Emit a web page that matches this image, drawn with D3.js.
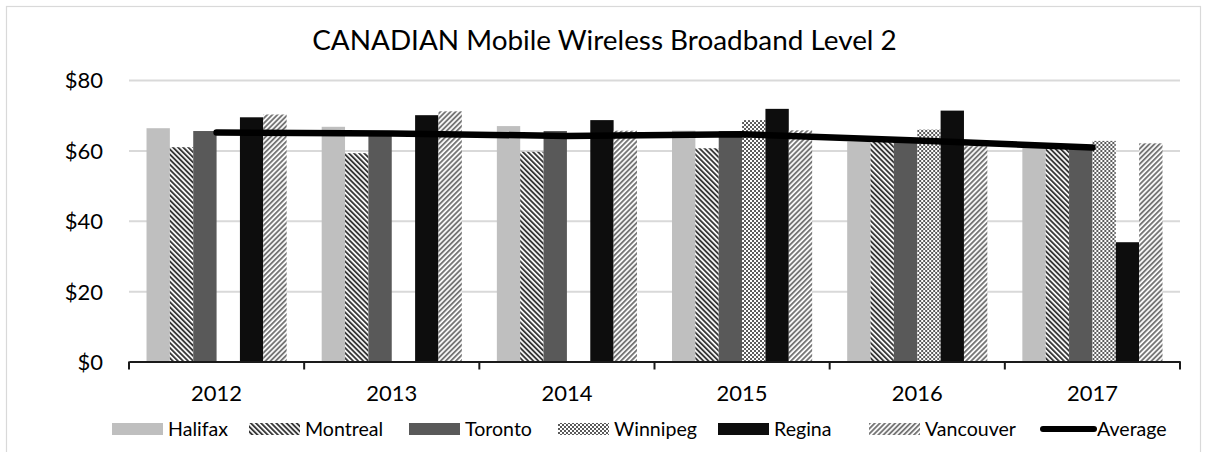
<!DOCTYPE html>
<html>
<head>
<meta charset="utf-8">
<script src="https://cdn.jsdelivr.net/npm/d3@7/dist/d3.min.js"></script>
<style>
  html, body { margin: 0; padding: 0; background: #fff; }
  svg { display: block; }
  text { font-family: Lato, "Liberation Sans", sans-serif; fill: #000; }
</style>
</head>
<body>
<svg id="chart" width="1207" height="452"></svg>
<script>
// ---- data ----
const title = "CANADIAN Mobile Wireless Broadband Level 2";
const years = ["2012", "2013", "2014", "2015", "2016", "2017"];
const cities = ["Halifax", "Montreal", "Toronto", "Winnipeg", "Regina", "Vancouver"];
const halifax   = [66.3, 66.7, 66.9, 65.6, 62.5, 61.0];
const montreal  = [60.9, 59.2, 59.6, 60.6, 62.5, 60.8];
const toronto   = [65.5, 64.6, 65.5, 65.5, 63.0, 60.5];
const winnipeg  = [null, null, null, 68.6, 65.9, 62.7];
const regina    = [69.4, 70.0, 68.6, 71.8, 71.3, 33.9];
const vancouver = [70.2, 71.1, 65.6, 65.7, 61.2, 62.0];
const average   = [65.1, 64.8, 64.1, 64.6, 62.8, 60.8];
const yTicks = [0, 20, 40, 60, 80];
const averageLabel = "Average";

const seriesValues = [halifax, montreal, toronto, winnipeg, regina, vancouver];

// ---- layout ----
const W = 1207, H = 452;
const plot = { left: 129, right: 1180, top: 80, bottom: 361.5 };
const svg = d3.select("#chart");

function fitSize(str, targetW, weight) {
  const t = svg.append("text").attr("font-size", 100).attr("font-weight", weight || 400).text(str);
  const w = t.node().getComputedTextLength();
  t.remove();
  return 100 * targetW / w;
}
const titleSize = fitSize(title, 585);
const axisSize = fitSize("2012", 51);
const legendSize = fitSize("Vancouver", 91);

// patterns
const defs = svg.append("defs");
function stripePattern(id, angle, color) {
  const p = defs.append("pattern").attr("id", id)
    .attr("patternUnits", "userSpaceOnUse")
    .attr("width", 3.6).attr("height", 10)
    .attr("patternTransform", `rotate(${angle})`);
  p.append("rect").attr("width", 3.6).attr("height", 10).attr("fill", "#fff");
  p.append("rect").attr("width", 1.9).attr("height", 10).attr("fill", color);
}
stripePattern("pMontreal", -45, "#383838");
stripePattern("pVancouver", 45, "#767676");
const chk = defs.append("pattern").attr("id", "pWinnipeg")
  .attr("patternUnits", "userSpaceOnUse").attr("width", 4).attr("height", 4);
chk.append("rect").attr("width", 4).attr("height", 4).attr("fill", "#fff");
chk.append("rect").attr("width", 2).attr("height", 2).attr("fill", "#5a5a5a");
chk.append("rect").attr("x", 2).attr("y", 2).attr("width", 2).attr("height", 2).attr("fill", "#5a5a5a");

const fills = {
  Halifax: "#bfbfbf",
  Montreal: "url(#pMontreal)",
  Toronto: "#595959",
  Winnipeg: "url(#pWinnipeg)",
  Regina: "#0d0d0d",
  Vancouver: "url(#pVancouver)"
};

// background + border
svg.append("rect").attr("width", W).attr("height", H).attr("fill", "#fff");
svg.append("rect").attr("x", 6.5).attr("y", 6.5).attr("width", 1194).attr("height", 460)
  .attr("fill", "none").attr("stroke", "#d9d9d9").attr("stroke-width", 1.2);

// scales
const x0 = d3.scaleBand().domain(years).range([plot.left, plot.right])
  .paddingInner(0.2).paddingOuter(0.1);
const x1 = d3.scaleBand().domain(cities).range([0, x0.bandwidth()]).padding(0);
const xCat = d3.scaleBand().domain(years).range([plot.left, plot.right]).padding(0);
const y = d3.scaleLinear().domain([0, 80]).range([plot.bottom, plot.top]);

// gridlines
const grid = svg.append("g").attr("transform", `translate(${plot.left},0)`)
  .call(d3.axisLeft(y).tickValues(yTicks).tickSize(-(plot.right - plot.left)).tickFormat(""));
grid.select(".domain").remove();
grid.selectAll("line").attr("stroke", "#d9d9d9").attr("stroke-width", 2);

// y labels
const yAxis = svg.append("g").attr("transform", `translate(${plot.left},0)`)
  .call(d3.axisLeft(y).tickValues(yTicks).tickSize(0).tickPadding(26).tickFormat(d => "$" + d));
yAxis.select(".domain").remove();
yAxis.selectAll("text").attr("font-size", axisSize).attr("font-family", "Lato").attr("fill", "#000")
  .attr("dy", "0.36em");

// bars
const groups = svg.append("g").selectAll("g").data(years).join("g")
  .attr("transform", d => `translate(${x0(d)},0)`);
groups.selectAll("rect")
  .data((yr, i) => cities.map((c, j) => ({ city: c, v: seriesValues[j][i] })).filter(d => d.v != null))
  .join("rect")
  .attr("x", d => x1(d.city))
  .attr("width", x1.bandwidth())
  .attr("y", d => y(d.v))
  .attr("height", d => y(0) - y(d.v))
  .attr("fill", d => fills[d.city]);

// x axis
const xAxis = svg.append("g").attr("transform", `translate(0,${plot.bottom})`)
  .call(d3.axisBottom(xCat).tickSize(0).tickPadding(24));
xAxis.select(".domain").attr("stroke", "#1a1a1a").attr("stroke-width", 2);
xAxis.selectAll("text").attr("font-size", axisSize).attr("font-family", "Lato").attr("fill", "#000");
const bounds = years.map(d => xCat(d)).concat([xCat(years[years.length - 1]) + xCat.bandwidth()]);
svg.append("g").selectAll("line").data(bounds).join("line")
  .attr("x1", d => d).attr("x2", d => d)
  .attr("y1", plot.bottom).attr("y2", plot.bottom + 8)
  .attr("stroke", "#1a1a1a").attr("stroke-width", 2);
xAxis.select(".domain").raise();

// average line
const line = d3.line().x((d, i) => xCat(years[i]) + xCat.bandwidth() / 2).y(d => y(d));
svg.append("path").datum(average).attr("d", line)
  .attr("fill", "none").attr("stroke", "#000").attr("stroke-width", 6.5)
  .attr("stroke-linecap", "round").attr("stroke-linejoin", "round");

// title
svg.append("text").attr("x", 604.5).attr("y", 50).attr("text-anchor", "middle")
  .attr("font-size", titleSize).text(title);

// legend
const legendItems = cities.concat([averageLabel]);
const legendX = [112, 249, 409, 558, 718, 869, 1040];
const leg = svg.append("g");
legendItems.forEach((name, i) => {
  const g = leg.append("g").attr("transform", `translate(${legendX[i]},0)`);
  if (name === averageLabel) {
    g.append("line").attr("x1", 3).attr("x2", 54).attr("y1", 429).attr("y2", 429)
      .attr("stroke", "#000").attr("stroke-width", 6).attr("stroke-linecap", "round");
    g.append("text").attr("x", 57).attr("y", 436).attr("font-size", legendSize).text(name);
  } else {
    g.append("rect").attr("x", 0).attr("y", 423).attr("width", 51).attr("height", 12)
      .attr("fill", fills[name]);
    g.append("text").attr("x", 56).attr("y", 436).attr("font-size", legendSize).text(name);
  }
});
</script>
</body>
</html>
